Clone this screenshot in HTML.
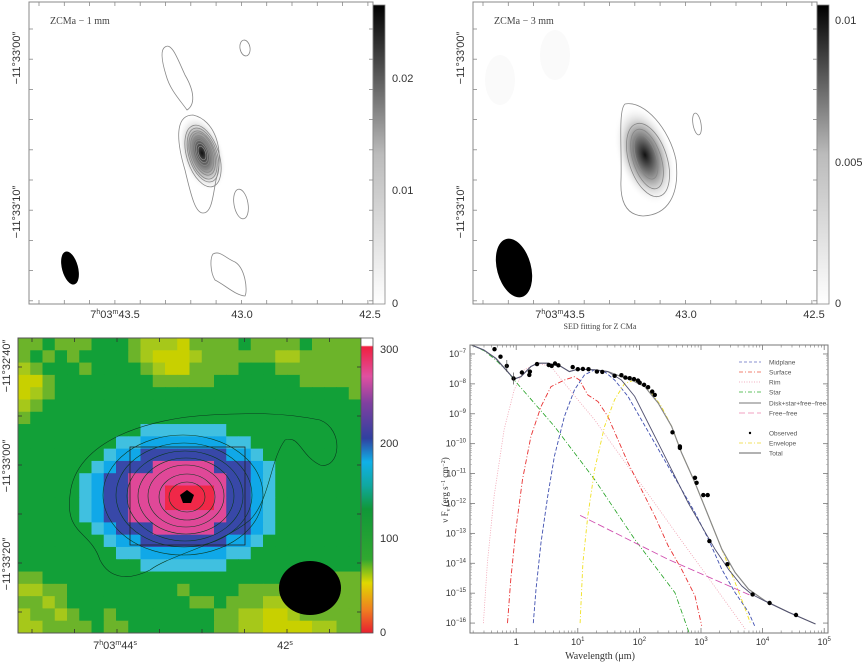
<!DOCTYPE html>
<html><head><meta charset="utf-8"><title>Z CMa maps and SED</title>
<style>
html,body{margin:0;padding:0;background:#fff;}
svg{display:block;font-family:"Liberation Sans",sans-serif;}
.tl{font-size:11px;fill:#333;}
.sed{font-family:"Liberation Serif",serif;}
.lg{font-size:6.5px;fill:#555;font-family:"Liberation Sans",sans-serif;}
</style></head>
<body>
<svg id="fig" width="868" height="663" viewBox="0 0 868 663" xmlns="http://www.w3.org/2000/svg">
<defs>
  <radialGradient id="g1" cx="0.5" cy="0.5" r="0.5">
    <stop offset="0" stop-color="#111"/><stop offset="0.35" stop-color="#777"/><stop offset="0.7" stop-color="#ddd"/><stop offset="1" stop-color="#fff" stop-opacity="0"/>
  </radialGradient>
  <linearGradient id="cbgray" x1="0" y1="1" x2="0" y2="0">
    <stop offset="0" stop-color="#fff"/><stop offset="0.5" stop-color="#bbb"/><stop offset="1" stop-color="#000"/>
  </linearGradient>
  <linearGradient id="cbcol" x1="0" y1="1" x2="0" y2="0">
    <stop offset="0" stop-color="#e82030"/><stop offset="0.08" stop-color="#f08020"/><stop offset="0.17" stop-color="#e0d800"/><stop offset="0.25" stop-color="#30a830"/><stop offset="0.42" stop-color="#109838"/><stop offset="0.5" stop-color="#10a8a0"/><stop offset="0.58" stop-color="#10b0e8"/><stop offset="0.66" stop-color="#3040a0"/><stop offset="0.78" stop-color="#8040a0"/><stop offset="0.87" stop-color="#e050a0"/><stop offset="0.97" stop-color="#f02040"/><stop offset="0.975" stop-color="#fff"/><stop offset="1" stop-color="#fff"/>
  </linearGradient>
</defs>

<!-- Panel 1: 1 mm -->
<g>
  <rect x="29" y="2" width="344" height="302" fill="#fff" stroke="#888" stroke-width="1"/>
  <ellipse cx="202" cy="153" rx="22" ry="40" transform="rotate(-18 202 153)" fill="url(#g1)"/>
  <g fill="none" stroke="#888" stroke-width="0.8">
    <path d="M193,115 C175,115 176,140 185,170 C192,200 196,213 203,213 C212,213 213,195 216,180 C225,150 215,120 193,115Z"/>
    <path d="M165,47 C172,42 178,60 185,75 C195,92 195,105 187,110 C180,100 170,90 166,75 C162,62 160,50 165,47Z"/>
    <ellipse cx="245" cy="48" rx="5" ry="8" transform="rotate(-10 245 48)"/>
    <ellipse cx="241" cy="204" rx="7" ry="15" transform="rotate(-10 241 204)"/>
    <path d="M213,254 C220,250 225,258 235,262 C245,268 248,290 245,296 C235,295 225,285 215,280 C210,272 210,258 213,254Z"/>
    <ellipse cx="203" cy="156" rx="16" ry="32" transform="rotate(-18 203 156)"/>
    <ellipse cx="203" cy="155" rx="14" ry="28" transform="rotate(-18 203 155)"/>
    <ellipse cx="203" cy="155" rx="12.5" ry="25" transform="rotate(-18 203 155)"/>
    <ellipse cx="203" cy="154" rx="11" ry="22" transform="rotate(-18 203 154)"/>
    <ellipse cx="203" cy="154" rx="9.5" ry="19" transform="rotate(-18 203 154)"/>
    <ellipse cx="202" cy="154" rx="8" ry="16" transform="rotate(-18 202 154)"/>
    <ellipse cx="202" cy="153" rx="6.5" ry="13" transform="rotate(-18 202 153)"/>
    <ellipse cx="202" cy="153" rx="5" ry="10" transform="rotate(-18 202 153)"/>
    <ellipse cx="202" cy="153" rx="3.5" ry="7" transform="rotate(-18 202 153)"/>
  </g>
  <ellipse cx="70" cy="268" rx="8" ry="17" transform="rotate(-15 70 268)" fill="#000"/>
  <text x="50" y="24" font-family="Liberation Serif,serif" font-size="10" fill="#444">ZCMa  −  1  mm</text>
  <rect x="373" y="5" width="12" height="299" fill="url(#cbgray)" stroke="#888" stroke-width="0.8"/>
  <text class="tl" x="392" y="82">0.02</text>
  <text class="tl" x="392" y="194">0.01</text>
  <text class="tl" x="392" y="307">0</text>
  <text class="tl" x="115" y="318" text-anchor="middle">7<tspan font-size="7" dy="-4">h</tspan><tspan dy="4">03</tspan><tspan font-size="7" dy="-4">m</tspan><tspan dy="4">43.5</tspan></text>
  <text class="tl" x="242" y="318" text-anchor="middle">43.0</text>
  <text class="tl" x="370" y="318" text-anchor="middle">42.5</text>
  <text class="tl" transform="translate(20,58) rotate(-90)" text-anchor="middle">−11°33′00″</text>
  <text class="tl" transform="translate(20,212) rotate(-90)" text-anchor="middle">−11°33′10″</text>
  <g id="ticks1" stroke="#888" stroke-width="0.8"></g>
</g>

<!-- Panel 2: 3 mm -->
<g>
  <rect x="473" y="2" width="344" height="302" fill="#fff" stroke="#888" stroke-width="1"/>
  <ellipse cx="500" cy="80" rx="15" ry="25" fill="#fafafa"/>
  <ellipse cx="555" cy="55" rx="15" ry="25" fill="#fafafa"/>
  <ellipse cx="645" cy="155" rx="28" ry="52" transform="rotate(-18 645 155)" fill="url(#g1)"/>
  <g fill="none" stroke="#888" stroke-width="0.8">
    <path d="M625,104 C645,100 670,130 676,160 C680,195 668,215 643,216 C625,215 620,200 621,180 C622,150 618,110 625,104Z"/>
    <ellipse cx="648" cy="160" rx="19" ry="38" transform="rotate(-18 648 160)"/>
    <ellipse cx="647" cy="159" rx="14" ry="31" transform="rotate(-18 647 159)"/>
    <ellipse cx="646" cy="157" rx="10" ry="23" transform="rotate(-18 646 157)"/>
    <ellipse cx="697" cy="124" rx="4" ry="11" transform="rotate(-10 697 124)"/>
  </g>
  <ellipse cx="514" cy="268" rx="17" ry="30" transform="rotate(-15 514 268)" fill="#000"/>
  <text x="494" y="24" font-family="Liberation Serif,serif" font-size="10" fill="#444">ZCMa  −  3  mm</text>
  <rect x="817" y="5" width="12" height="299" fill="url(#cbgray)" stroke="#888" stroke-width="0.8"/>
  <text class="tl" x="835" y="24">0.01</text>
  <text class="tl" x="835" y="166">0.005</text>
  <text class="tl" x="835" y="307">0</text>
  <text class="tl" x="560" y="318" text-anchor="middle">7<tspan font-size="7" dy="-4">h</tspan><tspan dy="4">03</tspan><tspan font-size="7" dy="-4">m</tspan><tspan dy="4">43.5</tspan></text>
  <text class="tl" x="686" y="318" text-anchor="middle">43.0</text>
  <text class="tl" x="814" y="318" text-anchor="middle">42.5</text>
  <text class="tl" transform="translate(464,58) rotate(-90)" text-anchor="middle">−11°33′00″</text>
  <text class="tl" transform="translate(464,212) rotate(-90)" text-anchor="middle">−11°33′10″</text>
  <g id="ticks2" stroke="#888" stroke-width="0.8"></g>
</g>

<!-- Panel 3: heatmap -->
<g>
  <g id="heat"></g>
  <g fill="none" stroke="#0a3a20" stroke-width="0.6">
    <path d="M70,495 C75,440 150,418 210,415 C250,413 280,412 320,420 C345,430 340,470 320,465 C300,455 300,435 285,440 C270,460 270,500 250,520 C220,545 170,555 150,570 C130,580 110,580 100,560 C90,530 65,535 70,495Z"/>
    <ellipse cx="183" cy="495" rx="80" ry="60"/>
    <ellipse cx="184" cy="495" rx="68" ry="52"/>
    <ellipse cx="185" cy="496" rx="58" ry="45"/>
    <ellipse cx="186" cy="496" rx="48" ry="38"/>
    <ellipse cx="186" cy="496" rx="38" ry="31"/>
    <ellipse cx="187" cy="497" rx="28" ry="23"/>
    <ellipse cx="187" cy="497" rx="18" ry="15"/>
  </g>
  <rect x="130" y="447" width="115" height="98" fill="none" stroke="#222" stroke-width="0.8"/>
  <polygon points="187,490 194,495 191,503 183,503 180,495" fill="#000"/>
  <ellipse cx="310" cy="588" rx="31" ry="27" fill="#000"/>
  <rect x="18" y="338" width="343" height="295" fill="none" stroke="#555" stroke-width="1"/>
  <rect x="361" y="338" width="12" height="295" fill="url(#cbcol)" stroke="#555" stroke-width="0.8"/>
  <text class="tl" x="380" y="353">300</text>
  <text class="tl" x="380" y="447">200</text>
  <text class="tl" x="380" y="542">100</text>
  <text class="tl" x="380" y="636">0</text>
  <text class="tl" x="115" y="649" text-anchor="middle">7<tspan font-size="7" dy="-4">h</tspan><tspan dy="4">03</tspan><tspan font-size="7" dy="-4">m</tspan><tspan dy="4">44</tspan><tspan font-size="7" dy="-4">s</tspan></text>
  <text class="tl" x="285" y="649" text-anchor="middle">42<tspan font-size="7" dy="-4">s</tspan></text>
  <text class="tl" transform="translate(10,366) rotate(-90)" text-anchor="middle">−11°32′40″</text>
  <text class="tl" transform="translate(10,466) rotate(-90)" text-anchor="middle">−11°33′00″</text>
  <text class="tl" transform="translate(10,564) rotate(-90)" text-anchor="middle">−11°33′20″</text>
  <g id="ticks3" stroke="#333" stroke-width="0.8"></g>
</g>

<!-- Panel 4: SED -->
<g class="sed">
  <text x="600" y="329" text-anchor="middle" font-size="8" fill="#444">SED fitting for Z CMa</text>
  <g id="sedplot"></g>
  <rect x="470" y="345" width="358" height="288" fill="none" stroke="#777" stroke-width="1"/>
  <g id="sedticks"></g>
  <text x="600" y="659" text-anchor="middle" font-size="10" fill="#333">Wavelength (μm)</text>
  <text transform="translate(448,490) rotate(-90)" text-anchor="middle" font-size="9" fill="#333">ν F<tspan font-size="6" dy="2">ν</tspan><tspan dy="-2"> (erg s</tspan><tspan font-size="6" dy="-3">−1</tspan><tspan dy="3"> cm</tspan><tspan font-size="6" dy="-3">−2</tspan><tspan dy="3">)</tspan></text>
  <g id="legend"></g>
</g>
</svg>

<script>
// ---------- heatmap data (level codes per cell) ----------
var heatRows = [
"2232223332111022223222232222",
"2323233332100012222221122222",
"1233323333210022223332222222",
"0023333333322222333333322222",
"0123333333333333333333333332",
"1233333333333333333333333333",
"2333333333333333333333333333",
"3333333333555555533333333333",
"3333333355666666655333333333",
"3333333566777777766533333333",
"3333335677788888777653333333",
"3333356778888888877653333333",
"3333356778889999877653333333",
"3333356778889999877653333333",
"3333356778888888877653333333",
"3333335677788888777653333333",
"3333333566777777766533333333",
"3333333355666666655333333333",
"3333333333555555533333333333",
"2233333333333333333333332222",
"1122333333333233332222212222",
"2212333333333322322211122222",
"1221233233333333221100122222",
"1122223223333333221100001122"
];
var heatLevelColors = ["#c8d000","#a6c81a","#6cb42a","#12a038","#0e9a3a","#40c0e0","#10a8e8","#3848a8","#e04898","#f02848"];

// ---------- SED data (log10 wavelength [um], log10 nuFnu) ----------
var obsLogLam = [-0.353,-0.255,-0.152,-0.043,0.092,0.212,0.223,0.337,0.527,0.576,0.630,0.685,0.918,1.0,1.082,1.174,1.310,1.397,1.598,1.707,1.772,1.842,1.913,1.978,2.005,2.076,2.141,2.207,2.25,2.538,2.658,2.658,2.902,2.929,3.038,3.109,3.136,3.429,3.837,4.114,4.543];
var obsLogF   = [-6.84,-7.09,-7.40,-7.82,-7.62,-7.70,-7.59,-7.34,-7.37,-7.40,-7.32,-7.38,-7.44,-7.51,-7.50,-7.51,-7.59,-7.60,-7.73,-7.71,-7.79,-7.81,-7.84,-7.89,-7.96,-8.03,-8.11,-8.26,-8.37,-9.62,-10.09,-10.14,-11.14,-11.31,-11.72,-11.72,-13.26,-14.03,-15.04,-15.33,-15.73];

var totalLam = [-0.728,-0.522,-0.332,-0.168,-0.033,0.076,0.239,0.348,0.511,0.728,0.864,1.0,1.272,1.489,1.707,1.870,2.087,2.304,2.522,2.685,2.902,3.120,3.337,3.554,3.772,4.043,4.424,4.859];
var totalF   = [-6.70,-6.87,-7.14,-7.53,-7.84,-7.76,-7.42,-7.31,-7.31,-7.42,-7.59,-7.51,-7.53,-7.59,-7.76,-7.87,-8.09,-8.64,-9.42,-10.31,-11.31,-12.42,-13.53,-14.31,-14.87,-15.26,-15.64,-16.03];

var diskLam = [-0.728,-0.522,-0.332,-0.168,-0.033,0.076,0.239,0.348,0.511,0.728,0.864,1.0,1.272,1.489,1.707,1.924,2.141,2.359,2.576,2.793,3.011,3.228,3.446,3.663,3.826,4.043,4.424,4.859];
var diskF   = [-6.70,-6.87,-7.14,-7.53,-7.84,-7.76,-7.42,-7.31,-7.31,-7.42,-7.59,-7.51,-7.53,-7.59,-7.87,-8.42,-9.31,-10.2,-11.09,-11.98,-12.76,-13.53,-14.2,-14.76,-15.04,-15.27,-15.64,-16.03];

var envLam = [1.038,1.082,1.163,1.272,1.435,1.598,1.761,1.924,2.141,2.359,2.522,2.685,2.902,3.12,3.337,3.554,3.717,3.799];
var envF   = [-16.0,-13.98,-12.42,-10.87,-9.42,-8.53,-7.98,-7.87,-8.14,-8.76,-9.42,-10.31,-11.31,-12.42,-13.53,-14.64,-15.53,-15.98];

var midLam = [0.277,0.321,0.402,0.511,0.62,0.783,0.946,1.109,1.272,1.435,1.598,1.815,2.033,2.25,2.467,2.685,2.902,3.12,3.337,3.554,3.772,3.87];
var midF   = [-16.0,-14.87,-13.31,-11.76,-10.42,-9.09,-8.2,-7.70,-7.53,-7.59,-7.87,-8.42,-9.2,-9.98,-10.76,-11.53,-12.31,-13.2,-14.2,-14.98,-15.64,-16.09];

var surfLam = [-0.141,-0.087,-0.005,0.103,0.239,0.402,0.565,0.783,0.946,1.027,1.163,1.326,1.489,1.652,1.815,2.033,2.25,2.467,2.685,2.902,3.011];
var surfF   = [-16.0,-14.53,-12.87,-11.2,-9.76,-8.76,-8.09,-7.87,-7.76,-7.87,-8.37,-8.59,-9.09,-9.87,-10.64,-11.53,-12.42,-13.42,-14.2,-15.09,-16.09];

var rimLam = [-0.533,-0.467,-0.359,-0.196,-0.033,0.13,0.348,0.565,0.783,1.0,1.272,1.543,1.815,2.087,2.359,2.63,2.902,3.174,3.446,3.717];
var rimF   = [-16.0,-13.98,-11.76,-9.53,-8.2,-7.53,-7.31,-7.42,-7.98,-8.53,-9.2,-9.98,-10.76,-11.53,-12.31,-13.09,-13.87,-14.64,-15.42,-16.2];

var starLam = [-0.728,-0.522,-0.332,-0.168,-0.033,0.293,0.62,0.946,1.272,1.598,1.924,2.25,2.576,2.804];
var starF   = [-6.7,-6.89,-7.2,-7.53,-7.87,-8.64,-9.42,-10.31,-11.2,-12.2,-13.2,-14.09,-14.98,-16.31];

var ffLam = [1.038,2.467,3.826];
var ffF   = [-12.4,-13.87,-15.09];

var xTickExp = [0,1,2,3,4,5];
var xTickLabels = ["1","10","10","10","10","10"];
var yTickExp = [-7,-8,-9,-10,-11,-12,-13,-14,-15,-16];

var NS = "http://www.w3.org/2000/svg";
function mk(tag, attrs, parent){ var e=document.createElementNS(NS,tag); for(var k in attrs) e.setAttribute(k,attrs[k]); if(parent) parent.appendChild(e); return e; }

// ---------- heatmap ----------
(function(){
  var g=document.getElementById('heat');
  var x0=18,y0=338,W=343,H=295;
  var nr=heatRows.length, nc=heatRows[0].length;
  var cw=W/nc, ch=H/nr;
  for(var r=0;r<nr;r++){
    for(var c=0;c<nc;c++){
      var lv=parseInt(heatRows[r].charAt(c),10);
      var rc=mk('rect',{x:(x0+c*cw).toFixed(2),y:(y0+r*ch).toFixed(2),width:(cw+0.5).toFixed(2),height:(ch+0.5).toFixed(2),fill:heatLevelColors[lv]},g);
      
      
    }
  }
})();

// ---------- map ticks ----------
(function(){
  function ticks(id,x0,x1,y0,y1,xs,ys,len){
    var g=document.getElementById(id);
    xs.forEach(function(x){ mk('line',{x1:x,y1:y1,x2:x,y2:y1-len},g); mk('line',{x1:x,y1:y0,x2:x,y2:y0+len},g); });
    ys.forEach(function(y){ mk('line',{x1:x0,y1:y,x2:x0+len,y2:y},g); mk('line',{x1:x1,y1:y,x2:x1-len,y2:y},g); });
  }
  var xs1=[],ys1=[]; for(var x=39;x<373;x+=25.3) xs1.push(x); for(var y=29;y<304;y+=30.2) ys1.push(y);
  ticks('ticks1',29,373,2,304,xs1,ys1,4);
  var xs2=xs1.map(function(v){return v+444;});
  ticks('ticks2',473,817,2,304,xs2,ys1,4);
  var xs3=[],ys3=[]; for(var x=32;x<361;x+=42.5) xs3.push(x); for(var y=367;y<633;y+=49) ys3.push(y);
  ticks('ticks3',18,361,338,633,xs3,ys3,4);
})();

// ---------- SED ----------
(function(){
  var L=470,R=828,T=345,B=633;
  var lx0=-0.75, dec=61.6;
  var yTop=-6.7, ydec=29.9;
  function X(l){ return L+(l-lx0)*dec; }
  function Y(f){ return T+(yTop-f)*ydec; }
  var g=document.getElementById('sedplot');
  var clip=mk('clipPath',{id:'sedclip'},document.querySelector('defs'));
  mk('rect',{x:L,y:T,width:R-L,height:B-T},clip);
  var pg=mk('g',{'clip-path':'url(#sedclip)'},g);
  function line(lams,fs,stroke,dash,w,name){
    var d=''; for(var i=0;i<lams.length;i++){ d+=(i?'L':'M')+X(lams[i]).toFixed(1)+','+Y(fs[i]).toFixed(1); }
    var p=mk('path',{d:d,fill:'none',stroke:stroke,'stroke-width':w,'stroke-dasharray':dash,'stroke-linejoin':'round'},pg);
    
    
  }
  line(rimLam,rimF,'#f0a0b0','1,1.5',0.8,'rim-curve');
  line(starLam,starF,'#20a020','5,2,1,2',0.8,'star-curve');
  line(surfLam,surfF,'#e83030','5,2,1,2',0.9,'surface-curve');
  line(midLam,midF,'#4050b0','4,2',0.9,'midplane-curve');
  line(ffLam,ffF,'#d050b0','7,3',0.9,'free-free-curve');
  line(envLam,envF,'#f0e020','4,2,1,2',0.9,'envelope-curve');
  line(totalLam,totalF,'#888','',1.2,'total-curve');
  line(diskLam,diskF,'#505070','',0.9,'disk-star-free-free-curve');
  for(var i=0;i<obsLogLam.length;i++){
    var c=mk('circle',{cx:X(obsLogLam[i]).toFixed(1),cy:Y(obsLogF[i]).toFixed(1),r:2.2,fill:'#000'},pg);
    
    
  }
  [2,3].forEach(function(i){
    var eb=mk('line',{x1:X(obsLogLam[i]),x2:X(obsLogLam[i]),y1:Y(obsLogF[i]+0.2),y2:Y(obsLogF[i]-0.2),stroke:'#333','stroke-width':0.6},pg);
    
    
  });
  var tg=document.getElementById('sedticks');
  xTickExp.forEach(function(e,idx){
    var x=X(e);
    mk('line',{x1:x,x2:x,y1:B,y2:B-5,stroke:'#777','stroke-width':0.8},tg);
    mk('line',{x1:x,x2:x,y1:T,y2:T+5,stroke:'#777','stroke-width':0.8},tg);
    for(var m=2;m<10;m++){ var xm=X(e-1+Math.log10(m)); if(xm>L&&xm<R){ mk('line',{x1:xm,x2:xm,y1:B,y2:B-2.5,stroke:'#777','stroke-width':0.6},tg); mk('line',{x1:xm,x2:xm,y1:T,y2:T+2.5,stroke:'#777','stroke-width':0.6},tg);} }
    var t=mk('text',{x:x,y:B+12,'text-anchor':'middle','font-size':9,fill:'#333','font-family':'Liberation Sans,sans-serif'},tg);
    
    
    t.textContent=xTickLabels[idx];
    if(e>0){ var s=mk('tspan',{'font-size':6,dy:-4},t); s.textContent=String(e); }
  });
  for(var m=2;m<10;m++){ var xm=X(5+Math.log10(m)); if(xm<R){ mk('line',{x1:xm,x2:xm,y1:B,y2:B-2.5,stroke:'#777','stroke-width':0.6},tg);} }
  yTickExp.forEach(function(e){
    var y=Y(e);
    mk('line',{x1:L,x2:L+5,y1:y,y2:y,stroke:'#777','stroke-width':0.8},tg);
    mk('line',{x1:R,x2:R-5,y1:y,y2:y,stroke:'#777','stroke-width':0.8},tg);
    for(var m=2;m<10;m++){ var ym=Y(e+Math.log10(m)); if(ym>T){ mk('line',{x1:L,x2:L+2,y1:ym,y2:ym,stroke:'#999','stroke-width':0.5},tg); mk('line',{x1:R,x2:R-2,y1:ym,y2:ym,stroke:'#999','stroke-width':0.5},tg);} }
    var t=mk('text',{x:466,y:y+3,'text-anchor':'end','font-size':9,fill:'#333','font-family':'Liberation Sans,sans-serif'},tg);
    
    
    t.textContent='10';
    var s=mk('tspan',{'font-size':6,dy:-4},t); s.textContent='−'+String(-e);
  });
  var lg=document.getElementById('legend');
  var items=[["Midplane",'#8890d0','3,2',362],["Surface",'#f08070','4,2,1,2',372],["Rim",'#f0b0c0','1,1.5',382],["Star",'#60c060','4,2,1,2',392],["Disk+star+free−free",'#777','',403],["Free−free",'#f0a0c0','6,3',413],["Observed",null,'',433],["Envelope",'#f0e060','4,2,1,2',443],["Total",'#999','',453]];
  items.forEach(function(it){
    if(it[1]){ mk('line',{x1:739,x2:761,y1:it[3],y2:it[3],stroke:it[1],'stroke-width':it[0]==='Total'?1.5:0.9,'stroke-dasharray':it[2]},lg); }
    else { mk('circle',{cx:750,cy:it[3],r:1.2,fill:'#000'},lg); }
    var t=mk('text',{x:769,y:it[3]+2.3,'class':'lg'},lg);
    
    
    t.textContent=it[0];
  });
})();
</script>
</body></html>
